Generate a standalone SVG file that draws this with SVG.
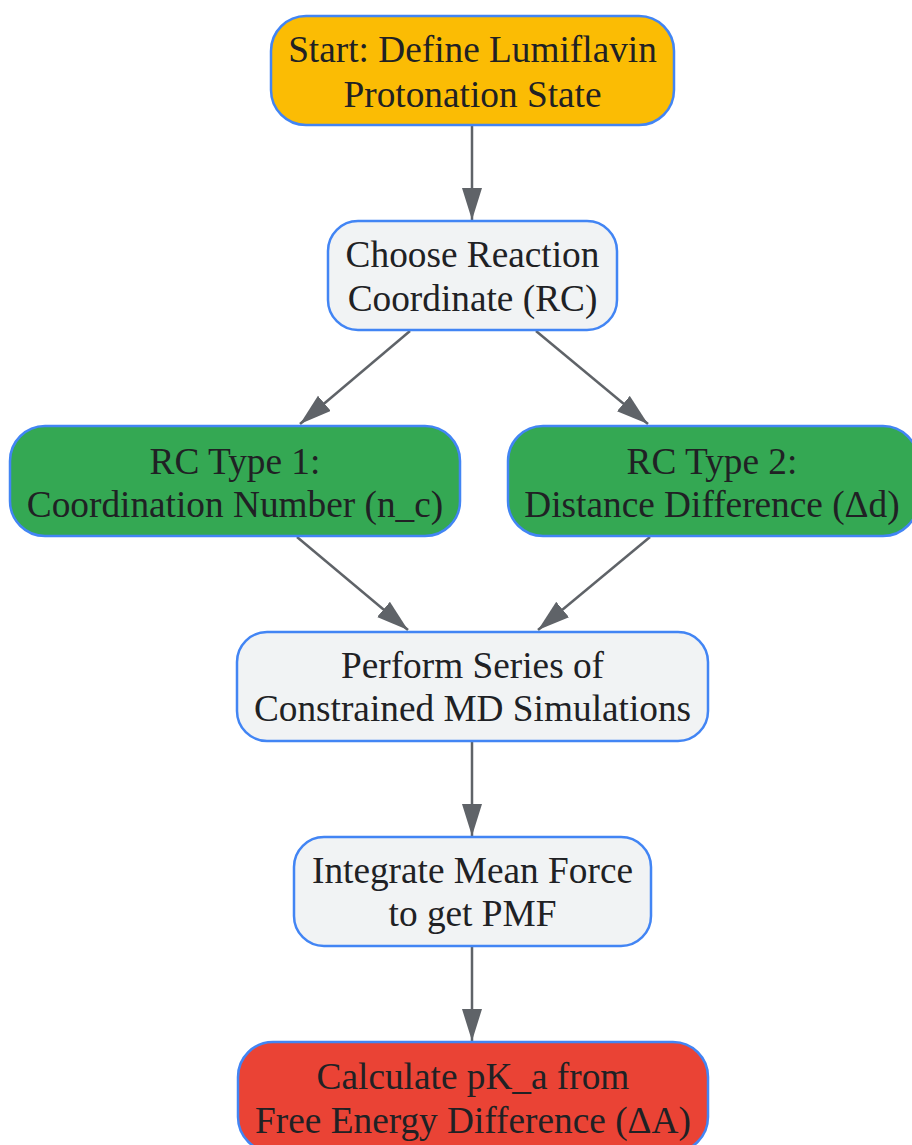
<svg xmlns="http://www.w3.org/2000/svg" width="912" height="1145" viewBox="0 0 912 1145">
<style>
.n{stroke:#4285F4;stroke-width:2.5}
.t{font-family:"Liberation Serif",serif;font-size:37.3px;fill:#202124;text-anchor:middle}
.e{stroke:#5F6368;stroke-width:2.5;fill:none;marker-end:url(#ah)}
</style>
<defs>
<marker id="ah" markerUnits="userSpaceOnUse" markerWidth="34" markerHeight="22" refX="32" refY="10" orient="auto">
<path d="M0,0 L32,10 L0,20 Z" fill="#5F6368"/>
</marker>
</defs>
<rect width="912" height="1145" fill="#fff"/>
<g id="edges">
<path class="e" d="M472,126 L472,220"/>
<path class="e" d="M410,331 L300,424"/>
<path class="e" d="M536,331 L648,424"/>
<path class="e" d="M297,537 L408,630"/>
<path class="e" d="M650,537 L538,630"/>
<path class="e" d="M472,742 L472,836"/>
<path class="e" d="M472,947 L472,1041"/>
</g>
<g id="n1"><rect class="n" x="271" y="16" width="403" height="109" rx="35" fill="#FBBC04"/><text class="t" x="472.5" y="62">Start: Define Lumiflavin</text><text class="t" x="472.5" y="107">Protonation State</text></g>
<g id="n2"><rect class="n" x="328" y="221" width="289" height="109" rx="30" fill="#F1F3F4"/><text class="t" x="472.5" y="267">Choose Reaction</text><text class="t" x="472.5" y="311">Coordinate (RC)</text></g>
<g id="n3"><rect class="n" x="10" y="426" width="450" height="110" rx="35" fill="#34A853"/><text class="t" x="235" y="474">RC Type 1:</text><text class="t" x="235" y="517">Coordination Number (n_c)</text></g>
<g id="n4"><rect class="n" x="508" y="426" width="410" height="110" rx="35" fill="#34A853"/><text class="t" x="712" y="474">RC Type 2:</text><text class="t" x="712" y="517">Distance Difference (Δd)</text></g>
<g id="n5"><rect class="n" x="237" y="632" width="471" height="109" rx="30" fill="#F1F3F4"/><text class="t" x="472.5" y="678">Perform Series of</text><text class="t" x="472.5" y="721">Constrained MD Simulations</text></g>
<g id="n6"><rect class="n" x="294" y="837" width="357" height="109" rx="30" fill="#F1F3F4"/><text class="t" x="472.5" y="883">Integrate Mean Force</text><text class="t" x="472.5" y="926">to get PMF</text></g>
<g id="n7"><rect class="n" x="238" y="1042" width="470" height="110" rx="35" fill="#EA4335"/><text class="t" x="473" y="1089">Calculate pK_a from</text><text class="t" x="473" y="1133">Free Energy Difference (ΔA)</text></g>
</svg>
